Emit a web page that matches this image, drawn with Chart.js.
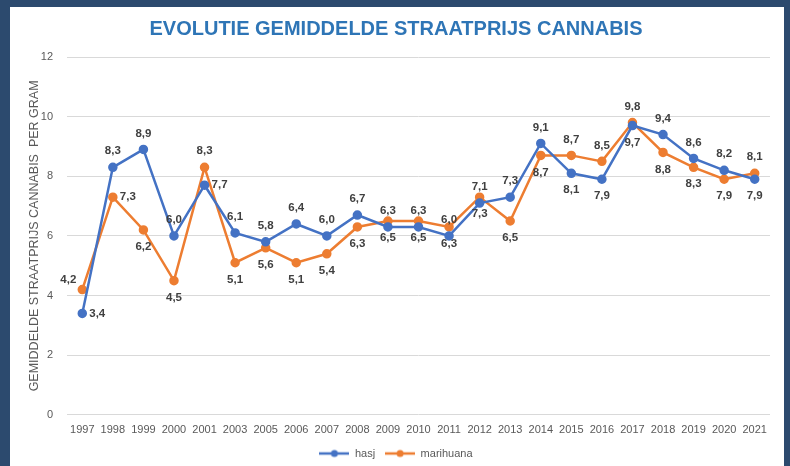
<!DOCTYPE html>
<html lang="nl">
<head>
  <meta charset="UTF-8" />
  <title>Evolutie gemiddelde straatprijs cannabis</title>
  <style>
    body {
      margin: 0;
      background: #2c4a6e;
      font-family: 'Liberation Sans', Arial, sans-serif;
      overflow: hidden;
    }
    #frame {
      position: absolute;
      left: 10px;
      top: 7px;
      width: 774px;
      height: 466px;
      background: #ffffff;
    }
  </style>
</head>
<body>
  <div id="frame"><canvas id="chart"></canvas></div>

  <script src="https://cdn.jsdelivr.net/npm/chart.js"></script>
  <script>
    const years = ['1997', '1998', '1999', '2000', '2001', '2003', '2005', '2006', '2007', '2008', '2009',
      '2010', '2011', '2012', '2013', '2014', '2015', '2016', '2017', '2018', '2019', '2020', '2021'];
    const hasj = [3.4, 8.3, 8.9, 6.0, 7.7, 6.1, 5.8, 6.4, 6.0, 6.7, 6.3,
      6.3, 6.0, 7.1, 7.3, 9.1, 8.1, 7.9, 9.7, 9.4, 8.6, 8.2, 7.9];
    const marihuana = [4.2, 7.3, 6.2, 4.5, 8.3, 5.1, 5.6, 5.1, 5.4, 6.3, 6.5,
      6.5, 6.3, 7.3, 6.5, 8.7, 8.7, 8.5, 9.8, 8.8, 8.3, 7.9, 8.1];
    const yTicks = [0, 2, 4, 6, 8, 10, 12];

    // where each data label sits: a = above, b = below, l = left, r = right
    const hasjPos = ['r', 'a', 'a', 'a', 'r', 'a', 'a', 'a', 'a', 'a', 'a',
      'a', 'a', 'a', 'a', 'a', 'b', 'b', 'b', 'a', 'a', 'a', 'b'];
    const mariPos = ['l', 'r', 'b', 'b', 'a', 'b', 'b', 'b', 'b', 'b', 'b',
      'b', 'b', 'b', 'b', 'b', 'a', 'a', 'a', 'b', 'b', 'b', 'a'];

    const BLUE = '#4472c4';
    const ORANGE = '#ed7d31';

    function legendIcon(color) {
      const c = document.createElement('canvas');
      c.width = 30;
      c.height = 10;
      const g = c.getContext('2d');
      g.strokeStyle = color;
      g.lineWidth = 2.5;
      g.beginPath();
      g.moveTo(0, 5);
      g.lineTo(30, 5);
      g.stroke();
      g.fillStyle = color;
      g.beginPath();
      g.arc(15, 5, 3.5, 0, Math.PI * 2);
      g.fill();
      return c;
    }

    const labelPlugin = {
      id: 'valueLabels',
      afterDatasetsDraw(chart) {
        const ctx = chart.ctx;
        const placements = [hasjPos, mariPos];
        ctx.save();
        ctx.font = 'bold 11.5px "Liberation Sans", Arial, sans-serif';
        ctx.fillStyle = '#404040';
        chart.data.datasets.forEach((ds, di) => {
          const meta = chart.getDatasetMeta(di);
          meta.data.forEach((pt, i) => {
            const txt = ds.data[i].toFixed(1).replace('.', ',');
            const p = placements[di][i];
            let x = pt.x, y = pt.y;
            ctx.textAlign = 'center';
            ctx.textBaseline = 'middle';
            if (p === 'a') y -= 16;
            else if (p === 'b') y += 17;
            else if (p === 'r') { x += 7; ctx.textAlign = 'left'; }
            else if (p === 'l') { x -= 6; y -= 10; ctx.textAlign = 'right'; }
            ctx.fillText(txt, x, y);
          });
        });
        ctx.restore();
      }
    };

    new Chart(document.getElementById('chart'), {
      type: 'line',
      data: {
        labels: years,
        datasets: [
          {
            label: 'hasj',
            data: hasj,
            borderColor: BLUE,
            backgroundColor: BLUE,
            borderWidth: 2.5,
            pointRadius: 3.5,
            pointHoverRadius: 3.5,
            tension: 0
          },
          {
            label: 'marihuana',
            data: marihuana,
            borderColor: ORANGE,
            backgroundColor: ORANGE,
            borderWidth: 2.5,
            pointRadius: 3.5,
            pointHoverRadius: 3.5,
            tension: 0
          }
        ]
      },
      options: {
        responsive: true,
        maintainAspectRatio: false,
        animation: false,
        layout: { padding: { top: 6, right: 14, left: 12, bottom: 4 } },
        plugins: {
          title: {
            display: true,
            text: 'EVOLUTIE GEMIDDELDE STRAATPRIJS CANNABIS',
            color: '#2e75b6',
            font: { size: 20, weight: 'bold', family: '"Liberation Sans", Arial, sans-serif' },
            padding: { top: 4, bottom: 16 }
          },
          legend: {
            position: 'bottom',
            labels: {
              color: '#595959',
              font: { size: 11 },
              usePointStyle: true,
              pointStyleWidth: 30,
              boxHeight: 10,
              padding: 10,
              generateLabels(chart) {
                const items = Chart.defaults.plugins.legend.labels.generateLabels(chart);
                items.forEach((it, i) => {
                  it.pointStyle = legendIcon(i === 0 ? BLUE : ORANGE);
                });
                return items;
              }
            }
          },
          tooltip: { enabled: false }
        },
        scales: {
          x: {
            offset: true,
            grid: { display: false },
            border: { display: false },
            ticks: {
              color: '#595959',
              font: { size: 11 },
              autoSkip: false,
              maxRotation: 0,
              padding: 1
            }
          },
          y: {
            min: 0,
            max: 12,
            afterBuildTicks(axis) {
              axis.ticks = yTicks.map(v => ({ value: v }));
            },
            afterFit(axis) {
              axis.width = 45;
            },
            grid: { color: '#d9d9d9', lineWidth: 1, drawTicks: false },
            border: { display: false },
            title: {
              display: true,
              text: 'GEMIDDELDE STRAATPRIJS CANNABIS  PER GRAM',
              color: '#595959',
              font: { size: 12.5 },
              padding: { top: 5, bottom: 2 }
            },
            ticks: {
              color: '#595959',
              font: { size: 11 },
              padding: 14
            }
          }
        }
      },
      plugins: [labelPlugin]
    });
  </script>
</body>
</html>
